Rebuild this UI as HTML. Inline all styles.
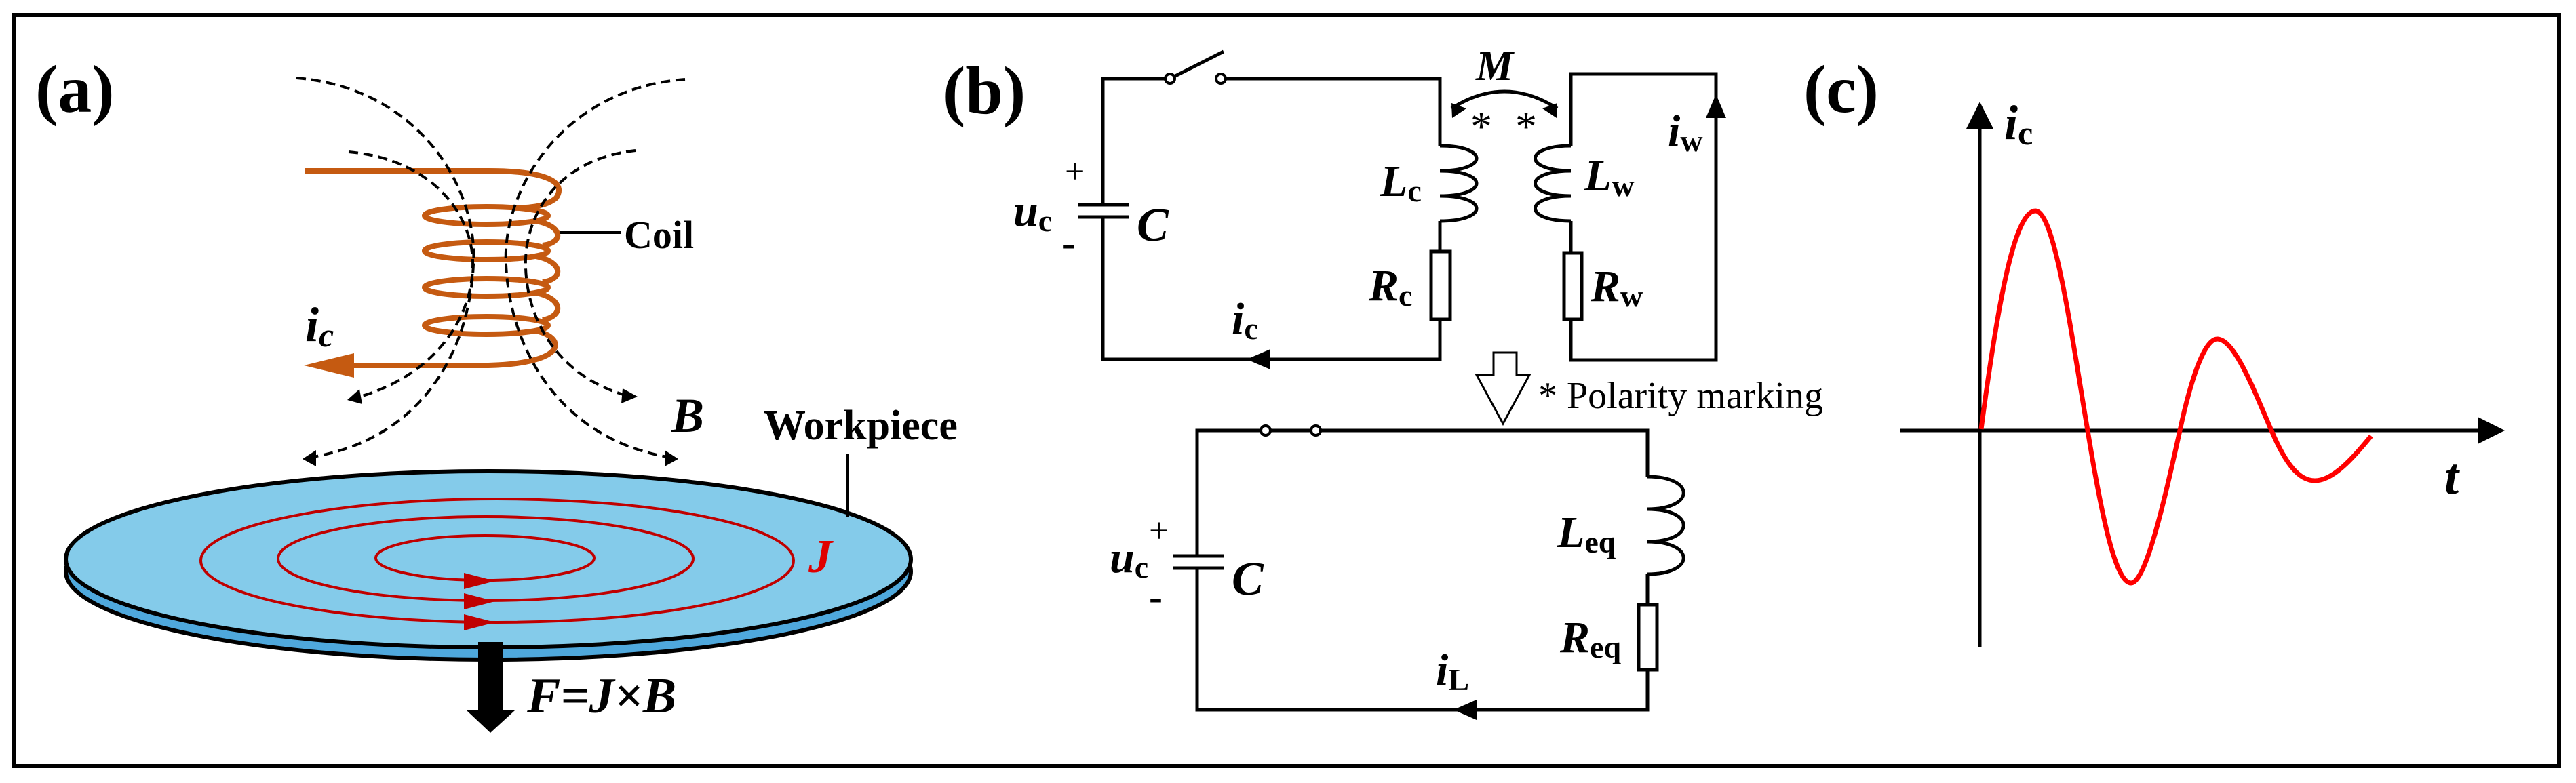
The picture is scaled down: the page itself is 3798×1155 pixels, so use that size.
<!DOCTYPE html>
<html><head><meta charset="utf-8"><style>
html,body{margin:0;padding:0;background:#fff;}
svg{display:block;}
text{font-family:"Liberation Serif",serif;}
</style></head><body>
<svg width="3798" height="1155" viewBox="0 0 3798 1155" xmlns="http://www.w3.org/2000/svg">
<rect x="20" y="22" width="3753" height="1108" fill="#fff" stroke="#000" stroke-width="6"/>

<!-- (a) -->
<text x="52" y="165" font-size="100" font-weight="bold">(a)</text>

<ellipse cx="720" cy="843" rx="623" ry="130" fill="#4FA8DC" stroke="#000" stroke-width="6"/>
<ellipse cx="720" cy="825" rx="623" ry="130" fill="#84CBEA" stroke="#000" stroke-width="6"/>
<g fill="none" stroke="#C00000" stroke-width="4">
<ellipse cx="733" cy="827" rx="437" ry="91"/>
<ellipse cx="716" cy="824" rx="306" ry="62"/>
<ellipse cx="715" cy="823" rx="161" ry="33"/>
</g>
<g fill="#C00000">
<polygon points="684,845 730,857 684,869"/>
<polygon points="684,875 730,887 684,899"/>
<polygon points="684,906 730,918 684,930"/>
</g>
<text x="1192" y="844" font-size="70" font-weight="bold" font-style="italic" fill="#E00000">J</text>
<line x1="1250" y1="670" x2="1250" y2="762" stroke="#000" stroke-width="4"/>
<text x="1126" y="648" font-size="62" font-weight="bold">Workpiece</text>

<rect x="705" y="947" width="37" height="103" fill="#000"/>
<polygon points="688,1048 759,1048 723,1081" fill="#000"/>
<text x="777" y="1051" font-size="74" font-weight="bold" font-style="italic">F=J×B</text>

<g fill="none" stroke="#C55A11" stroke-width="8">
<path d="M450,252 L720,252 C810,252 835,270 820,292 C805,305 780,306 760,307"/>
<ellipse cx="717" cy="318" rx="91" ry="13"/>
<ellipse cx="717" cy="370" rx="91" ry="13"/>
<ellipse cx="717" cy="424" rx="91" ry="13"/>
<ellipse cx="717" cy="480" rx="91" ry="13"/>
<path d="M790,326 C830,333 832,358 800,362"/>
<path d="M790,378 C830,386 832,412 800,416"/>
<path d="M790,432 C830,440 832,466 800,472"/>
<path d="M790,488 C835,498 838,536 720,539 L500,539"/>
</g>
<polygon points="448,539 522,521 522,557" fill="#C55A11"/>
<text x="450" y="503" font-size="72" font-weight="bold" font-style="italic">i<tspan font-size="50" dy="8">c</tspan></text>
<line x1="825" y1="343" x2="916" y2="343" stroke="#000" stroke-width="4"/>
<text x="920" y="366" font-size="58" font-weight="bold">Coil</text>

<g fill="none" stroke="#000" stroke-width="4" stroke-dasharray="14,8">
<path d="M437,115 C620,130 705,280 698,390 C692,520 620,650 455,675"/>
<path d="M1010,117 C830,130 740,280 746,390 C752,520 830,650 990,675"/>
<path d="M514,224 C640,235 700,320 697,395 C694,480 630,560 520,588"/>
<path d="M937,222 C820,235 772,320 775,395 C778,480 830,560 930,585"/>
</g>
<g fill="#000">
<polygon points="446,677 466,664 466,688"/>
<polygon points="1000,677 980,664 980,688"/>
<polygon points="512,590 530,574 534,596"/>
<polygon points="940,585 918,573 916,595"/>
</g>
<text x="990" y="637" font-size="72" font-weight="bold" font-style="italic">B</text>

<!-- (b) -->
<text x="1390" y="167" font-size="100" font-weight="bold">(b)</text>
<g fill="none" stroke="#000" stroke-width="5">
<path d="M1626,302 L1626,116 L1719,116"/>
<path d="M1806,116 L2123,116 L2123,215"/>
<path d="M1626,320 L1626,530 L2123,530 L2123,471"/>
<rect x="2110" y="371" width="28" height="100"/>
<path d="M2123,326 L2123,371"/>
<path d="M2123,215 C2195,215 2195,252 2123,252 C2195,252 2195,289 2123,289 C2195,289 2195,326 2123,326"/>
<line x1="1725" y1="116" x2="1804" y2="76"/>
<line x1="1589" y1="302" x2="1664" y2="302"/>
<line x1="1589" y1="320" x2="1664" y2="320"/>
<path d="M2316,215 L2316,109 L2530,109 L2530,531 L2316,531 L2316,471"/>
<rect x="2306" y="373" width="26" height="98"/>
<path d="M2316,326 L2316,373"/>
<path d="M2316,215 C2246,215 2246,252 2316,252 C2246,252 2246,289 2316,289 C2246,289 2246,326 2316,326"/>
<path d="M2140,160 Q2218,110 2296,160"/>
<path d="M1765,820 L1765,635 L2429,635 L2429,703"/>
<path d="M1765,838 L1765,1047 L2429,1047 L2429,988"/>
<path d="M2429,847 L2429,892"/>
<rect x="2416" y="892" width="27" height="96"/>
<path d="M2429,703 C2500,703 2500,751 2429,751 C2500,751 2500,799 2429,799 C2500,799 2500,847 2429,847"/>
<line x1="1730" y1="820" x2="1804" y2="820"/>
<line x1="1730" y1="838" x2="1804" y2="838"/>
</g>
<g fill="#fff" stroke="#000" stroke-width="4">
<circle cx="1725" cy="116" r="7"/>
<circle cx="1800" cy="116" r="7"/>
<circle cx="1866" cy="635" r="7"/>
<circle cx="1940" cy="635" r="7"/>
</g>
<g fill="#000">
<polygon points="1838,530 1873,515 1873,545"/>
<polygon points="2530,139 2515,174 2545,174"/>
<polygon points="2141,174 2140,152 2162,160"/>
<polygon points="2295,174 2296,152 2274,160"/>
<polygon points="2143,1047 2177,1032 2177,1062"/>
</g>
<polygon points="2202,520 2236,520 2236,553 2255,553 2216,625 2177,553 2202,553" fill="#fff" stroke="#000" stroke-width="3"/>

<text x="1570" y="270" font-size="52">+</text>
<text x="1494" y="333" font-size="66" font-weight="bold" font-style="italic">u<tspan font-size="46" font-style="normal" dy="8">c</tspan></text>
<text x="1566" y="378" font-size="60" font-weight="bold">-</text>
<text x="1676" y="355" font-size="70" font-weight="bold" font-style="italic">C</text>
<text x="2035" y="289" font-size="66" font-weight="bold" font-style="italic">L<tspan font-size="46" font-style="normal" dy="8">c</tspan></text>
<text x="2018" y="443" font-size="66" font-weight="bold" font-style="italic">R<tspan font-size="46" font-style="normal" dy="8">c</tspan></text>
<text x="1816" y="492" font-size="66" font-weight="bold" font-style="italic">i<tspan font-size="46" font-style="normal" dy="8">c</tspan></text>
<text x="2176" y="118" font-size="62" font-weight="bold" font-style="italic">M</text>
<text x="2168" y="208" font-size="64">*</text>
<text x="2234" y="208" font-size="64">*</text>
<text x="2459" y="215" font-size="66" font-weight="bold" font-style="italic">i<tspan font-size="46" font-style="normal" dy="8">w</tspan></text>
<text x="2336" y="281" font-size="66" font-weight="bold" font-style="italic">L<tspan font-size="46" font-style="normal" dy="8">w</tspan></text>
<text x="2345" y="444" font-size="66" font-weight="bold" font-style="italic">R<tspan font-size="46" font-style="normal" dy="8">w</tspan></text>
<text x="2268" y="602" font-size="56">* Polarity marking</text>

<text x="1694" y="800" font-size="52">+</text>
<text x="1636" y="844" font-size="66" font-weight="bold" font-style="italic">u<tspan font-size="46" font-style="normal" dy="8">c</tspan></text>
<text x="1694" y="900" font-size="60" font-weight="bold">-</text>
<text x="1816" y="877" font-size="70" font-weight="bold" font-style="italic">C</text>
<text x="2296" y="807" font-size="66" font-weight="bold" font-style="italic">L<tspan font-size="46" font-style="normal" dy="8">eq</tspan></text>
<text x="2300" y="962" font-size="66" font-weight="bold" font-style="italic">R<tspan font-size="46" font-style="normal" dy="8">eq</tspan></text>
<text x="2117" y="1010" font-size="66" font-weight="bold" font-style="italic">i<tspan font-size="46" font-style="normal" dy="8">L</tspan></text>

<!-- (c) -->
<text x="2659" y="165" font-size="100" font-weight="bold">(c)</text>
<line x1="2919" y1="955" x2="2919" y2="185" stroke="#000" stroke-width="5"/>
<polygon points="2919,150 2899,190 2939,190" fill="#000"/>
<line x1="2802" y1="635" x2="3655" y2="635" stroke="#000" stroke-width="5"/>
<polygon points="3693,635 3653,615 3653,655" fill="#000"/>
<text x="2955" y="205" font-size="72" font-weight="bold" font-style="italic">i<tspan font-size="50" font-style="normal" dy="8">c</tspan></text>
<text x="3604" y="728" font-size="76" font-weight="bold" font-style="italic">t</text>
<path d="M2921,633 C2945,450 2970,311 3001,311 C3030,311 3055,500 3078,635 C3100,770 3120,860 3142,860 C3165,860 3195,720 3214,635 C3230,560 3250,500 3269,500 C3295,500 3325,580 3349,635 C3370,685 3390,709 3413,709 C3440,709 3470,675 3496,643" fill="none" stroke="#FF0000" stroke-width="7"/>
</svg>
</body></html>
